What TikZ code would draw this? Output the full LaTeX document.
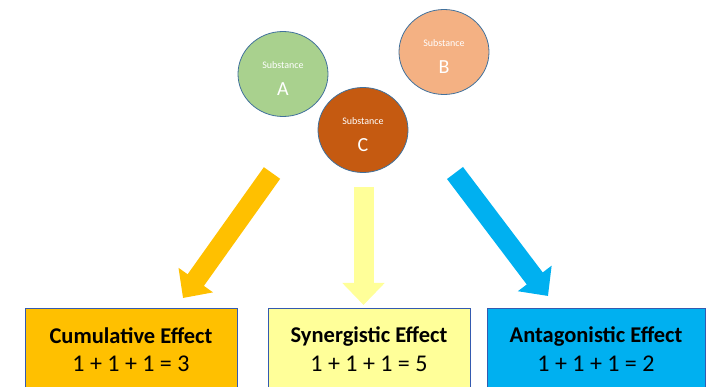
\documentclass[tikz,border=0pt]{standalone}
\usepackage{fontspec}
\setmainfont{Carlito}
\usetikzlibrary{arrows.meta,shapes.geometric}
\definecolor{vertA}{HTML}{A9D18E}
\definecolor{saumonB}{HTML}{F4B183}
\definecolor{rouilleC}{HTML}{C55A11}
\definecolor{bordure}{HTML}{41719C}
\definecolor{orangeE}{HTML}{FFC000}
\definecolor{jauneE}{HTML}{FFFF99}
\definecolor{bleuE}{HTML}{00B0F0}
\begin{document}
\begin{tikzpicture}[x=1pt,y=-1pt]
		\tikzstyle{substance}=[ellipse,draw=bordure,line width=0.8pt,minimum width=90pt,minimum height=85pt,inner sep=0pt,text=white,align=center]
		\tikzstyle{fleche}=[line width=20pt,-{Triangle[width=41pt,length=22pt]}]
		\tikzstyle{effet}=[draw=bordure!80!blue,line width=0.6pt,anchor=north west,minimum height=100pt,align=center,text depth=0pt]
		\tikzstyle{titre}=[font=\fontsize{22.5}{24}\selectfont\bfseries]
		\tikzstyle{somme}=[font=\fontsize{24}{26}\selectfont]
		\def\Sub#1{\rule{0pt}{16pt}{\fontsize{10}{11}\selectfont Substance}\\[13pt]{\fontsize{20}{21}\selectfont #1}}
		\useasboundingbox (0,0) rectangle (712,387);
		\clip (0,0) rectangle (712,387);
		% substances
		\node[substance,fill=vertA] (A) at (283,74) {\Sub{A}};
		\node[substance,fill=saumonB] (B) at (444,52) {\Sub{B}};
		\node[substance,fill=rouilleC] (C) at (363,130) {\Sub{C}};
		% effets
		\node[effet,fill=orangeE,minimum width=212pt] (Cum) at (25,308) {};
		\node[effet,fill=jauneE,minimum width=202pt] (Syn) at (268,308) {};
		\node[effet,fill=bleuE,minimum width=218pt] (Ant) at (487,308) {};
		\node[titre] (CumT) at (131,336) {Cumulative Effect};
		\node[somme] (CumN) at (131,364) {1 + 1 + 1 = 3};
		\node[titre] (SynT) at (369,336) {Synergistic Effect};
		\node[somme] (SynN) at (369,364) {1 + 1 + 1 = 5};
		\node[titre] (AntT) at (596,336) {Antagonistic Effect};
		\node[somme] (AntN) at (596,364) {1 + 1 + 1 = 2};
		% fleches
		\coordinate (Gd) at (272,173);
		\coordinate (Ga) at (183,298);
		\coordinate (Md) at (363.5,187);
		\coordinate (Ma) at (363.5,305);
		\coordinate (Dd) at (455,173);
		\coordinate (Da) at (548,296);
		\draw[fleche,orangeE] (Gd)--(Ga);
		\draw[fleche,jauneE] (Md)--(Ma);
		\draw[fleche,bleuE] (Dd)--(Da);
	\end{tikzpicture}
\end{document}
